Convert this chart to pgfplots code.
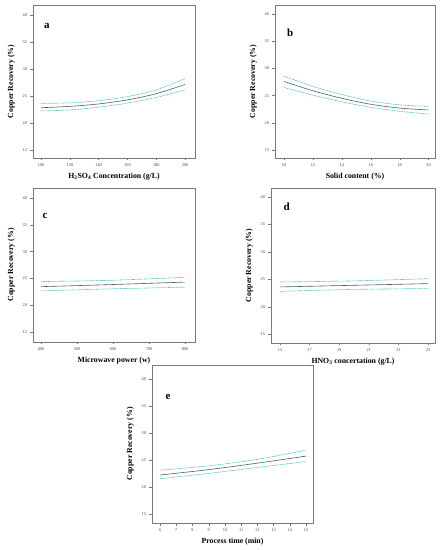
\documentclass[border=0pt]{standalone}
\usepackage{fontspec}
\setmainfont{Liberation Serif}
\usepackage{pgfplots}
\pgfplotsset{compat=1.18}
\definecolor{band}{HTML}{3CC4C4}
\definecolor{mainl}{HTML}{5A5A5A}
\definecolor{frame}{HTML}{7A7A7A}
\pgfplotsset{
  panel/.style={
    scale only axis,
    anchor=south west,
    axis line style={frame, line width=0.5pt},
    tick style={frame, line width=0.4pt},
    tick align=outside,
    major tick length=2.5pt,
    xtick pos=bottom, ytick pos=left,
    ytick={15,20,25,30,35,40},
    tick label style={font=\fontsize{4.3}{4.3}\selectfont, text=black!75},
    /pgf/number format/assume math mode=true,
    ylabel={Copper Recovery (\%)},
    label style={font=\bfseries\fontsize{7.8}{8}\selectfont},
    ylabel style={yshift=1pt},
    xlabel style={yshift=1pt},
    clip=false,
  },
  mid/.style={mainl, line width=0.6pt, smooth},
  bnd/.style={band, dashed, dash pattern=on 1.6pt off 0.8pt, line width=0.6pt, smooth},
}
\begin{document}
\begin{tikzpicture}[x=1pt,y=1pt]
\path (0,0) rectangle (445,550);
% a
\begin{axis}[panel, at={(33pt,392pt)}, width=162pt, height=153pt,
  xmin=94.4, xmax=206.9, ymin=13.6, ymax=41.9,
  xtick={100,120,...,200},
  xlabel={H\textsubscript{2}SO\textsubscript{4} Concentration (g/L)}]
\addplot[bnd] coordinates {(100,23.7)(120,23.8)(140,24.2)(160,24.95)(180,26.2)(200,28.3)};
\addplot[bnd] coordinates {(100,22.3)(120,22.5)(140,23.0)(160,23.75)(180,24.8)(200,26.2)};
\addplot[mid] coordinates {(100,22.9)(120,23.15)(140,23.6)(160,24.35)(180,25.5)(200,27.2)};
\node[font=\bfseries\fontsize{11}{11}\selectfont] at (rel axis cs:0.085,0.86) {a};
\end{axis}
% b
\begin{axis}[panel, at={(275pt,392pt)}, width=160pt, height=153pt,
  xmin=9.38, xmax=20.44, ymin=13.5, ymax=41.7,
  xtick={10,12,...,20},
  xlabel={Solid content (\%)}]
\addplot[bnd] coordinates {(10,28.6)(12,26.7)(14,25.2)(16,24.0)(18,23.3)(20,23.0)};
\addplot[bnd] coordinates {(10,26.5)(12,25.1)(14,23.85)(16,22.85)(18,22.1)(20,21.6)};
\addplot[mid] coordinates {(10,27.6)(12,25.9)(14,24.5)(16,23.4)(18,22.7)(20,22.35)};
\node[font=\bfseries\fontsize{11}{11}\selectfont] at (rel axis cs:0.095,0.82) {b};
\end{axis}
% c
\begin{axis}[panel, at={(33pt,208pt)}, width=162pt, height=154pt,
  xmin=377.8, xmax=827.8, ymin=13.1, ymax=41.9,
  xtick={400,500,...,800},
  xlabel={Microwave power (w)}]
\addplot[bnd] coordinates {(400,24.4)(600,24.65)(800,25.2)};
\addplot[bnd] coordinates {(400,22.65)(600,23.05)(800,23.35)};
\addplot[mid] coordinates {(400,23.45)(600,23.85)(800,24.3)};
\node[font=\bfseries\fontsize{11}{11}\selectfont] at (rel axis cs:0.075,0.82) {c};
\end{axis}
% d
\begin{axis}[panel, at={(271pt,207pt)}, width=164pt, height=155pt,
  xmin=14.39, xmax=25.47, ymin=13.4, ymax=41.6,
  xtick={15,17,...,25},
  xlabel={HNO\textsubscript{3} concertation (g/L)}]
\addplot[bnd] coordinates {(15,24.5)(20,24.7)(25,25.1)};
\addplot[bnd] coordinates {(15,22.8)(20,23.15)(25,23.3)};
\addplot[mid] coordinates {(15,23.6)(20,23.9)(25,24.2)};
\node[font=\bfseries\fontsize{11}{11}\selectfont] at (rel axis cs:0.095,0.88) {d};
\end{axis}
% e
\begin{axis}[panel, at={(152pt,27pt)}, width=161pt, height=158pt,
  xmin=5.5, xmax=15.43, ymin=13.3, ymax=42.6,
  xtick={6,7,...,15},
  xlabel={Process time (min)}]
\addplot[bnd] coordinates {(6,23.1)(9,23.9)(12,25.1)(15,26.8)};
\addplot[bnd] coordinates {(6,21.5)(9,22.5)(12,23.6)(15,24.7)};
\addplot[mid] coordinates {(6,22.2)(9,23.2)(12,24.4)(15,25.7)};
\node[font=\bfseries\fontsize{11}{11}\selectfont] at (rel axis cs:0.1,0.8) {e};
\end{axis}
\end{tikzpicture}
\end{document}
